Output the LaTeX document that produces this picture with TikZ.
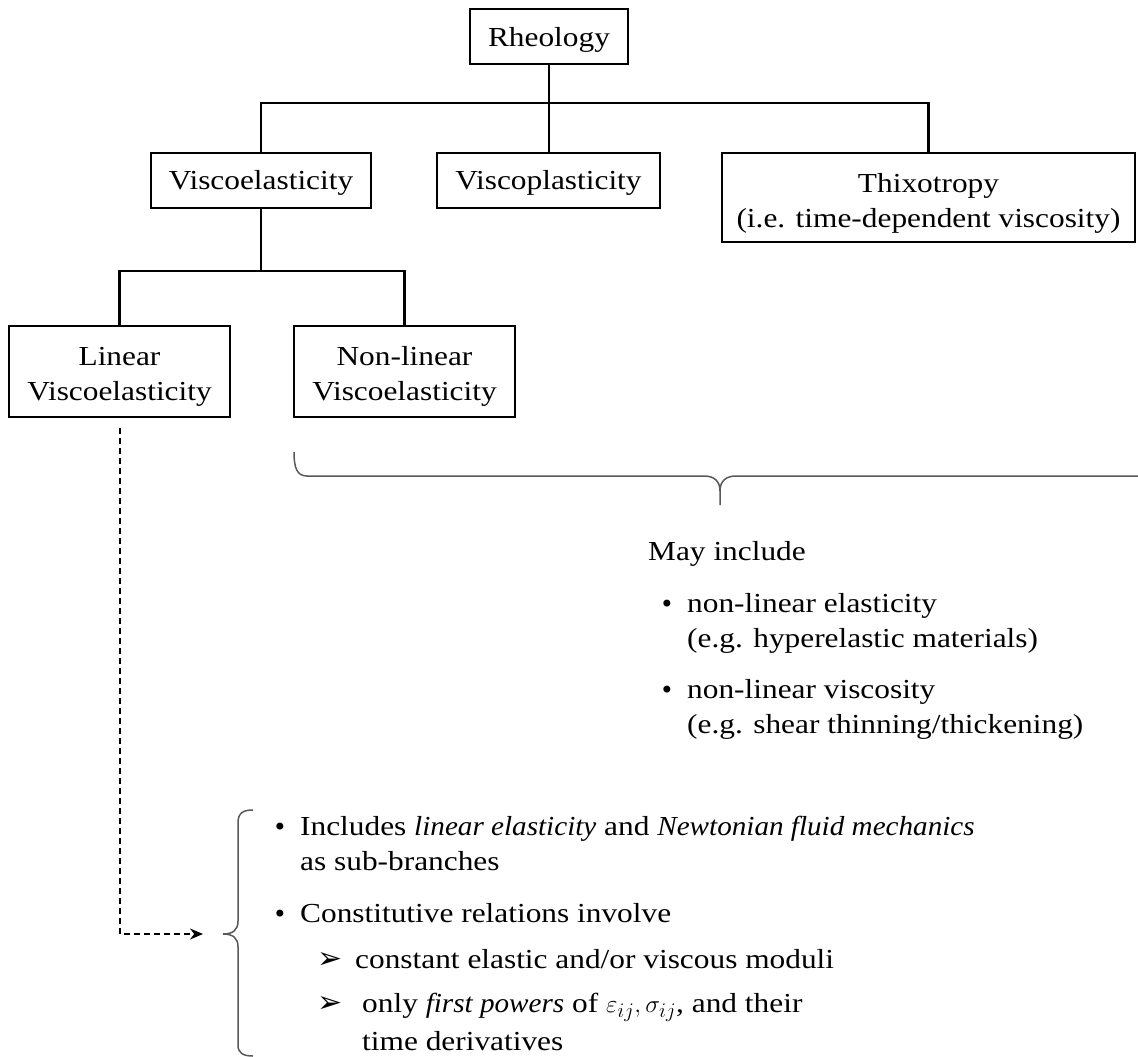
\documentclass[tikz,border=0pt]{standalone}
\usepackage{fontspec}
\setmainfont{Liberation Serif}[FakeStretch=1.14, ItalicFeatures={FakeStretch=1.06}]
\newfontfamily\symfont{DejaVu Sans}
\usetikzlibrary{arrows.meta}
\tikzset{
  box/.style={draw, line width=2.1pt, inner sep=0pt},
  conn/.style={line width=2.1pt},
  txt/.style={inner sep=0pt, anchor=base, font=\fontsize{27.5}{35}\selectfont},
  txtl/.style={inner sep=0pt, anchor=base west, font=\fontsize{27.5}{35}\selectfont},
  bulletstyle/.style={inner sep=0pt, anchor=base, font=\symfont\fontsize{24}{30}\selectfont},
  bracestyle/.style={draw=black!65, line width=1.5pt},
  dasharrow/.style={line width=1.2pt, dash pattern=on 6pt off 4pt, -{Stealth[length=13pt,width=11pt]}},
  arrbullet/.style={inner sep=0pt, anchor=base west, font=\symfont\fontsize{30}{34}\selectfont}
}
\begin{document}
\begin{tikzpicture}[x=1pt,y=-1pt]
\useasboundingbox (0,0) rectangle (1138,1057);
% boxes
\node[box, minimum width=158pt, minimum height=55pt] (rheo) at (549,36.5) {};
\node[box, minimum width=220pt, minimum height=55pt] (ve) at (261,180.5) {};
\node[box, minimum width=223pt, minimum height=55pt] (vp) at (548.5,180.5) {};
\node[box, minimum width=413pt, minimum height=89pt] (thix) at (928.5,197.5) {};
\node[box, minimum width=221pt, minimum height=91pt] (lin) at (119.5,371.5) {};
\node[box, minimum width=221pt, minimum height=91pt] (nl) at (404.5,371.5) {};
% box texts
\node[txt] (trheo) at (549,47) {Rheology};
\node[txt] (tve) at (261,189) {Viscoelasticity};
\node[txt] (tvp) at (548.5,189) {Viscoplasticity};
\node[txt] (tthix1) at (928.5,192) {Thixotropy};
\node[txt] (tthix2) at (928.5,227) {(i.e. time-dependent viscosity)};
\node[txt] (tlin1) at (119.5,365) {Linear};
\node[txt] (tlin2) at (119.5,400) {Viscoelasticity};
\node[txt] (tnl1) at (404.5,365) {Non-linear};
\node[txt] (tnl2) at (404.5,400) {Viscoelasticity};
% tree connectors
\coordinate (j1) at (549,103);
\coordinate (j2) at (261,271);
\draw[conn] (rheo.south) -- (rheo.south |- vp.north);
\draw[conn] (ve.north) |- (thix.north |- j1) -- (thix.north);
\draw[conn] (ve.south) -- (ve.south |- j2);
\draw[conn] (lin.north) |- (nl.north |- j2) -- (nl.north);
% dashed arrow
\coordinate (dstart) at (120,428);
\coordinate (atip) at (203,934);
\draw[dasharrow] (dstart) |- (atip);
% top brace
\draw[bracestyle] (294,452) .. controls (294,468) and (297,476) .. (307,476) -- (704,476)
  .. controls (714,476) and (720,481) .. (720,491) -- (720,505);
\draw[bracestyle] (720,491) .. controls (720,481) and (726,476) .. (736,476) -- (1145,476);
% left brace
\draw[bracestyle] (253,810) .. controls (243,810) and (238,813) .. (238,823) -- (238,921)
  .. controls (238,930) and (233,934) .. (223,934)
  .. controls (233,934) and (238,938) .. (238,947) -- (238,1045)
  .. controls (238,1053) and (243,1056) .. (253,1056);
% right-hand list
\node[txtl] (may) at (648,560) {May include};
\node[bulletstyle] (b1) at (667,612) {•};
\node[txtl] (l1) at (687,612) {non-linear elasticity};
\node[txtl] (l2) at (687,647) {(e.g. hyperelastic materials)};
\node[bulletstyle] (b2) at (667,698) {•};
\node[txtl] (l3) at (687,698) {non-linear viscosity};
\node[txtl] (l4) at (687,733) {(e.g. shear thinning/thickening)};
% bottom list
\node[bulletstyle] (b3) at (280,835) {•};
\node[txtl] (m1) at (300,835) {Includes \textit{linear elasticity} and \textit{Newtonian fluid mechanics}};
\node[txtl] (m2) at (300,870) {as sub-branches};
\node[bulletstyle] (b4) at (280,922) {•};
\node[txtl] (m3) at (300,922) {Constitutive relations involve};
\node[arrbullet] (a1) at (317,968) {➢};
\node[txtl] (m4) at (355,968) {constant elastic and/or viscous moduli};
\node[arrbullet] (a2) at (317,1012) {➢};
\node[txtl] (m5) at (362,1012) {only \textit{first powers} of $\varepsilon_{ij}, \sigma_{ij}$, and their};
\node[txtl] (m6) at (362,1050) {time derivatives};
\end{tikzpicture}
\end{document}
